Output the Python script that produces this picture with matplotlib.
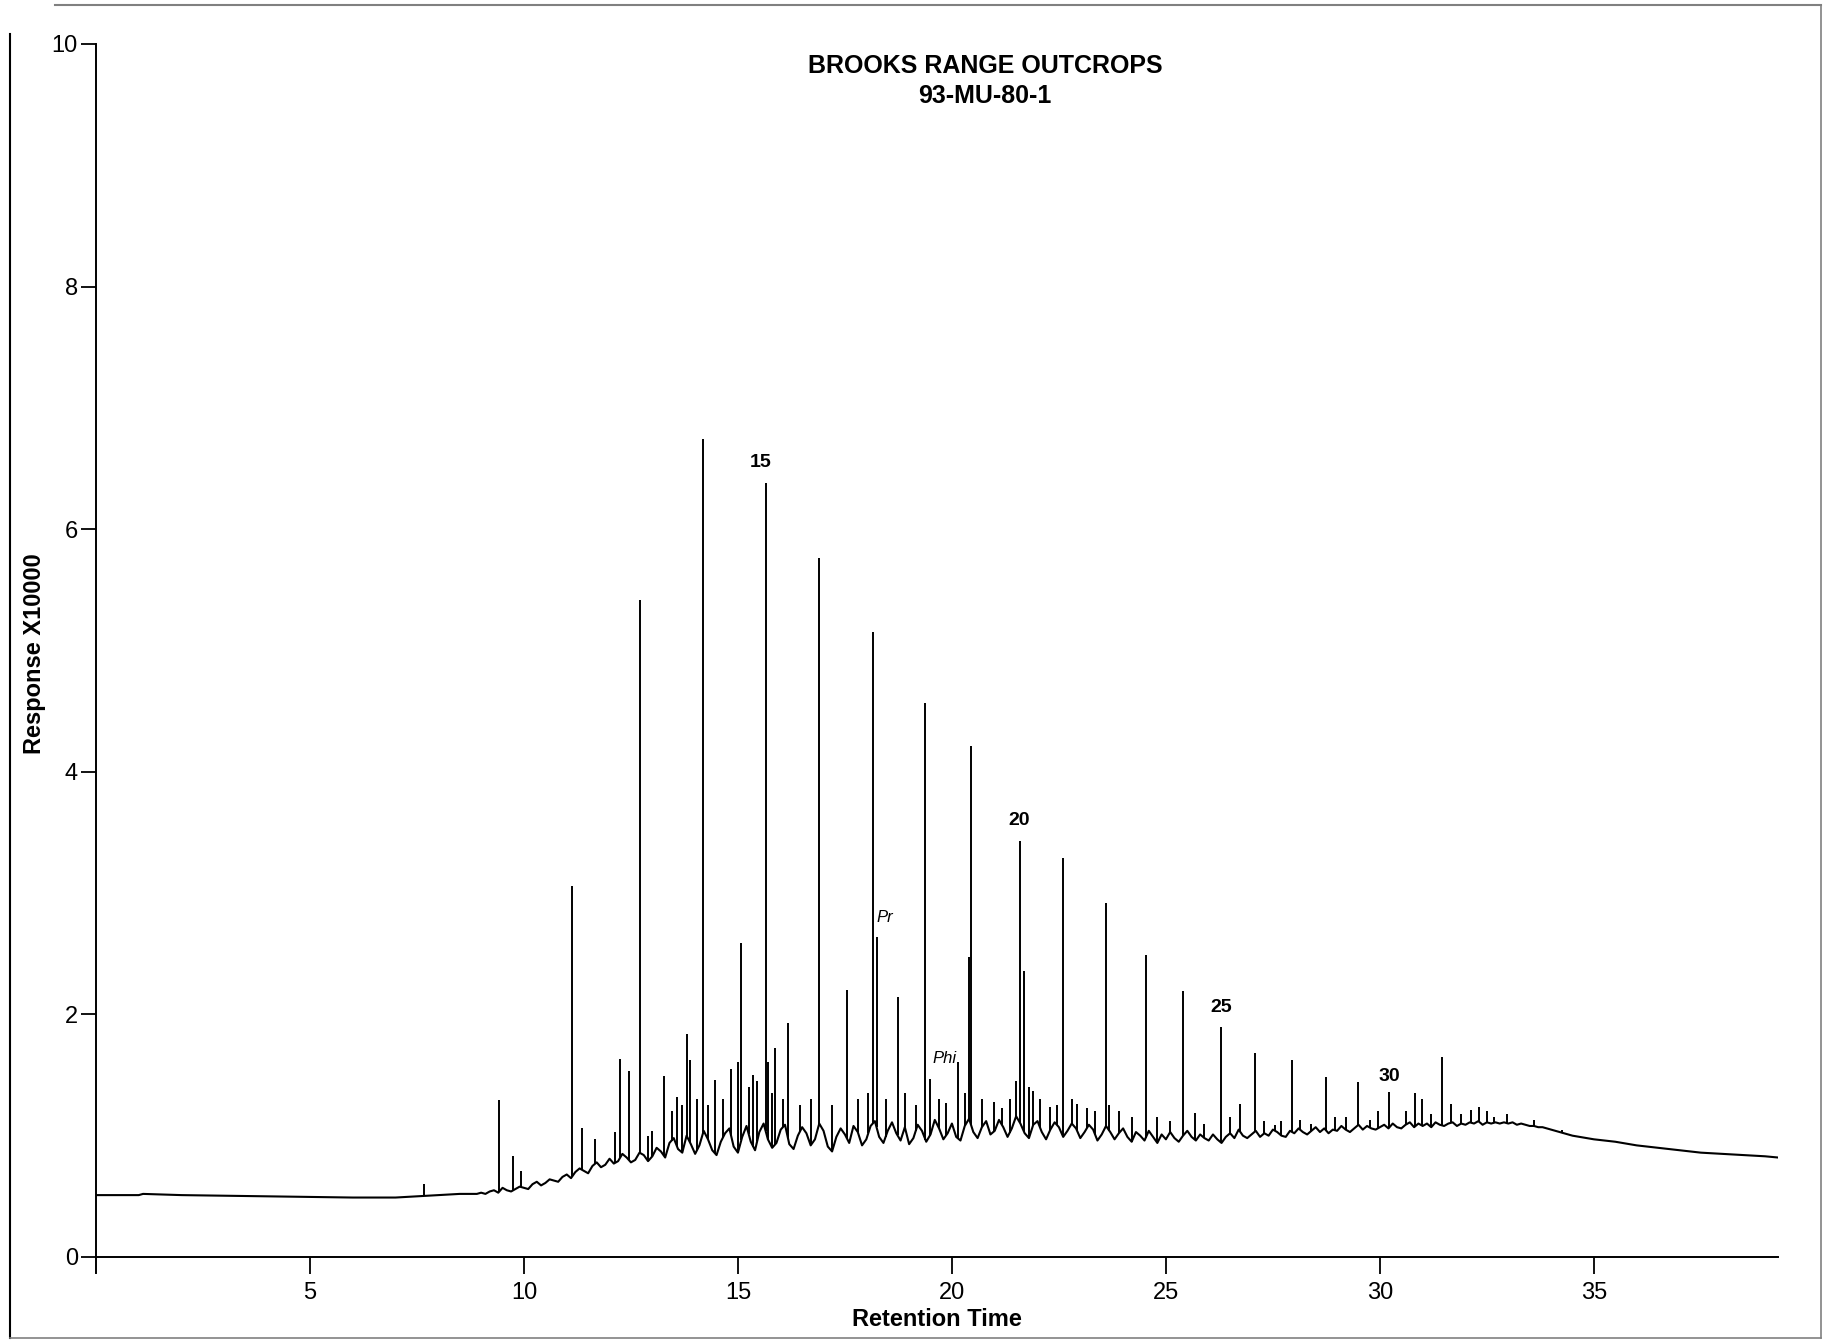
import matplotlib
matplotlib.use("Agg")
import matplotlib.pyplot as plt
from matplotlib.lines import Line2D
import numpy as np

plt.rcParams['font.family'] = ['Liberation Sans', 'DejaVu Sans']

# Trazado base del cromatograma (tiempo, respuesta x10000)
base_inicio_t = [0.0, 1.0, 1.1, 2.0, 4.0, 6.0, 7.0, 7.5, 8.0, 8.5, 8.9]
base_inicio_y = [0.51, 0.51, 0.52, 0.51, 0.50, 0.49, 0.49, 0.50, 0.51, 0.52, 0.52]

# zona ruidosa: un valor cada 0.1 min desde 9.0 hasta 33.9
ruido_t0 = 9.0
ruido_paso = 0.1
ruido_y = [
    0.53, 0.52, 0.54, 0.55, 0.53, 0.57, 0.55, 0.54, 0.56, 0.58,
    0.57, 0.56, 0.60, 0.62, 0.59, 0.61, 0.64, 0.63, 0.62, 0.66,
    0.68, 0.65, 0.70, 0.73, 0.71, 0.69, 0.75, 0.78, 0.74, 0.76,
    0.81, 0.77, 0.79, 0.85, 0.82, 0.78, 0.80, 0.86, 0.84, 0.79,
    0.83, 0.90, 0.87, 0.82, 0.94, 0.98, 0.89, 0.86, 1.00, 0.93,
    0.85, 0.92, 1.04, 0.97, 0.88, 0.84, 0.95, 1.02, 1.06, 0.91,
    0.86, 0.99, 1.08, 0.95, 0.88, 1.03, 1.10, 0.97, 0.90, 0.94,
    1.05, 1.09, 0.93, 0.89, 1.00, 1.07, 1.02, 0.92, 0.97, 1.10,
    1.04, 0.91, 0.87, 0.99, 1.06, 1.01, 0.94, 1.08, 1.03, 0.92,
    0.97, 1.08, 1.12, 0.99, 0.94, 1.04, 1.11, 1.02, 0.96, 1.07,
    0.93, 0.98, 1.09, 1.04, 0.95, 1.01, 1.13, 1.06, 0.97, 1.02,
    1.10, 0.99, 0.96, 1.08, 1.14, 1.03, 0.98, 1.07, 1.12, 1.01,
    1.04, 1.13, 1.07, 0.99, 1.06, 1.16, 1.10, 1.02, 0.98, 1.09,
    1.12, 1.03, 0.97, 1.05, 1.11, 1.07, 0.99, 1.04, 1.10, 1.06,
    0.98, 1.03, 1.09, 1.05, 0.96, 1.01, 1.08, 1.03, 0.97, 1.02,
    1.06, 0.99, 0.95, 1.03, 1.00, 0.96, 1.04, 0.99, 0.94, 1.01,
    0.97, 1.03, 0.98, 0.95, 1.00, 1.04, 0.99, 0.96, 1.01, 0.98,
    0.96, 1.01, 0.97, 0.94, 0.99, 1.02, 0.98, 1.05, 1.00, 0.98,
    1.01, 1.04, 0.99, 1.02, 1.00, 1.05, 1.03, 1.00, 0.99, 1.04,
    1.02, 1.06, 1.03, 1.01, 1.04, 1.07, 1.03, 1.06, 1.02, 1.05,
    1.04, 1.08, 1.05, 1.03, 1.06, 1.09, 1.05, 1.08, 1.06, 1.05,
    1.07, 1.09, 1.06, 1.10, 1.07, 1.06, 1.09, 1.11, 1.07, 1.10,
    1.08, 1.10, 1.07, 1.11, 1.09, 1.08, 1.10, 1.11, 1.08, 1.10,
    1.09, 1.11, 1.10, 1.12, 1.09, 1.11, 1.10, 1.11, 1.10, 1.11,
    1.10, 1.11, 1.09, 1.10, 1.09, 1.08, 1.08, 1.07, 1.07, 1.06,
]

base_final_t = [34.0, 34.5, 35.0, 35.5, 36.0, 36.5, 37.0, 37.5, 38.0, 38.5, 39.0, 39.3]
base_final_y = [1.05, 1.00, 0.97, 0.95, 0.92, 0.90, 0.88, 0.86, 0.85, 0.84, 0.83, 0.82]

# Picos: tiempo de retención y altura máxima
picos_t = [7.66, 9.41, 9.74, 9.94, 11.13, 11.35, 11.66, 12.12, 12.24, 12.45,
           12.71, 12.99, 13.27, 13.58, 13.80, 13.87, 14.18, 14.46, 14.84, 15.01,
           15.08, 15.36, 15.65, 15.70, 15.87, 16.17, 16.90, 17.55, 18.16, 18.24,
           18.73, 19.38, 19.48, 19.85, 20.14, 20.41, 20.45, 20.98, 21.17, 21.59,
           21.69, 21.89, 22.30, 22.60, 22.92, 23.15, 23.60, 23.68, 24.53, 25.40,
           25.68, 26.28, 26.74, 27.09, 27.54, 27.94, 28.14, 28.73, 28.94, 29.49,
           29.76, 30.22, 30.81, 30.98, 31.45, 31.65, 32.14, 32.32, 32.67, 32.96,
           33.60, 34.25,
           12.90, 13.45, 13.70, 14.05, 14.30, 14.65, 15.25, 15.45, 15.80, 16.05,
           16.45, 16.70, 17.20, 17.80, 18.05, 18.45, 18.90, 19.15, 19.70, 20.30,
           20.70, 21.35, 21.50, 21.80, 22.05, 22.45, 22.80, 23.35, 23.90, 24.20,
           24.80, 25.10, 25.90, 26.50, 27.30, 27.70, 28.40, 29.20, 29.95, 30.60,
           31.20, 31.90, 32.50]
picos_y = [0.60, 1.29, 0.83, 0.71, 3.06, 1.06, 0.97, 1.03, 1.63, 1.53,
           5.42, 1.04, 1.49, 1.32, 1.84, 1.62, 6.74, 1.46, 1.55, 1.61,
           2.59, 1.50, 6.38, 1.61, 1.72, 1.93, 5.76, 2.20, 5.15, 2.64,
           2.14, 4.57, 1.47, 1.27, 1.61, 2.47, 4.21, 1.28, 1.23, 3.43,
           2.36, 1.37, 1.24, 3.29, 1.26, 1.23, 2.92, 1.25, 2.49, 2.19,
           1.19, 1.90, 1.26, 1.68, 1.09, 1.62, 1.13, 1.48, 1.15, 1.44,
           1.13, 1.36, 1.35, 1.30, 1.65, 1.26, 1.21, 1.24, 1.15, 1.18,
           1.13, 1.05,
           1.00, 1.20, 1.25, 1.30, 1.25, 1.30, 1.40, 1.45, 1.35, 1.30,
           1.25, 1.30, 1.25, 1.30, 1.35, 1.30, 1.35, 1.25, 1.30, 1.35,
           1.30, 1.30, 1.45, 1.40, 1.30, 1.25, 1.30, 1.20, 1.20, 1.15,
           1.15, 1.12, 1.10, 1.15, 1.12, 1.12, 1.10, 1.15, 1.20, 1.20,
           1.18, 1.18, 1.20]

# Etiquetas de picos (n-alcanos, Pr, Phi)
etiquetas = ['15', 'Pr', 'Phi', '20', '25', '30']
etiquetas_t = [15.54, 18.43, 19.82, 21.56, 26.28, 30.23]
etiquetas_y = [6.55, 2.80, 1.64, 3.60, 2.06, 1.49]

# Construir el trazado base completo
ruido_t = ruido_t0 + ruido_paso * np.arange(len(ruido_y))
base_t = np.concatenate([base_inicio_t, ruido_t, base_final_t])
base_y = np.concatenate([base_inicio_y, ruido_y, base_final_y])

fig = plt.figure(figsize=(18.28, 13.41), dpi=100)
ax = fig.add_axes([0.0525, 0.0509, 0.9201, 0.9163])

ax.plot(base_t, base_y, color='black', lw=1.5)
pie = np.interp(picos_t, base_t, base_y)
ax.vlines(picos_t, pie, picos_y, color='black', lw=1.4)

for txt, tx, ty in zip(etiquetas, etiquetas_t, etiquetas_y):
    if txt in ('Pr', 'Phi'):
        ax.text(tx, ty, txt, ha='center', va='center', fontsize=12, style='italic')
    else:
        ax.text(tx, ty, txt, ha='center', va='center', fontsize=14, fontweight='bold')

ax.text(0.5285, 0.970, 'BROOKS RANGE OUTCROPS\n93-MU-80-1', transform=ax.transAxes,
        ha='center', va='center', fontsize=18, fontweight='bold', linespacing=1.3)

ax.set_xlim(0, 39.3)
ax.set_ylim(-0.13, 10)
ax.set_xticks([5, 10, 15, 20, 25, 30, 35])
ax.set_yticks([0, 2, 4, 6, 8, 10])
ax.spines['top'].set_visible(False)
ax.spines['right'].set_visible(False)
ax.spines['bottom'].set_position(('data', 0))
for s in ('left', 'bottom'):
    ax.spines[s].set_linewidth(1.4)
ax.tick_params(axis='x', direction='out', length=12, width=1.3, pad=6, labelsize=17)
ax.tick_params(axis='y', direction='out', length=11, width=1.3, pad=2, labelsize=17)

ax.set_xlabel('Retention Time', fontsize=17, fontweight='bold')
ax.xaxis.set_label_coords(0.5, -0.0286)
ax.set_ylabel('Response X10000', fontsize=17, fontweight='bold')
ax.yaxis.set_label_coords(-0.030, 0.504)

# borde de la página escaneada
fig.add_artist(Line2D([0.0055, 0.0055], [0.002, 0.975], color='black', lw=1.5))
fig.add_artist(Line2D([0.03, 0.996], [0.996, 0.996], color='gray', lw=1.5))
fig.add_artist(Line2D([0.996, 0.996], [0.002, 0.996], color='gray', lw=1.2))
fig.add_artist(Line2D([0.0055, 0.996], [0.002, 0.002], color='gray', lw=1.2))

fig.savefig('out.png', dpi=100)
